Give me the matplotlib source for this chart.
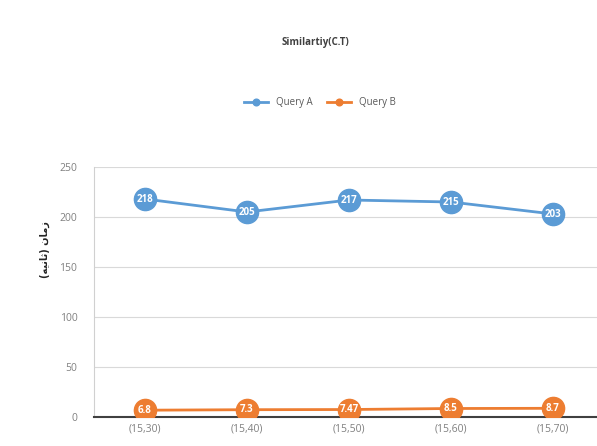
import numpy as np
import matplotlib.pyplot as plt

categories = ["(15,30)", "(15,40)", "(15,50)", "(15,60)", "(15,70)"]
query_a = [218, 205, 217, 215, 203]
query_b = [6.8, 7.3, 7.47, 8.5, 8.7]
labels_a = ["218", "205", "217", "215", "203"]
labels_b = ["6.8", "7.3", "7.47", "8.5", "8.7"]
yticks = [0, 50, 100, 150, 200, 250]
# "زمان (ثانیه)" written with presentation forms in visual order
ylabel = "(\ufeea\ufef4\ufee7\ufe8e\ufe9b) \ufee5\ufe8e\ufee3\ufeaf"

blue = "#5B9BD5"
orange = "#ED7D31"
grey = "#808080"

plt.rcParams['font.family'] = ['Open Sans', 'DejaVu Sans']

fig = plt.figure(figsize=(5.97, 4.46), dpi=100)
ax = fig.add_axes([94/597, 29/446, 510/597, 250/446])

x = np.arange(len(categories))
ax.plot(x, query_a, color=blue, lw=2, marker='o', ms=16, mec=blue, label="Query A", zorder=3)
ax.plot(x, query_b, color=orange, lw=2, marker='o', ms=16, mec=orange, label="Query B", zorder=3)

for xi, v, s in zip(x, query_a, labels_a):
    ax.text(xi, v, s, ha='center', va='center', color='white', fontsize=7, fontweight='bold', zorder=4)
for xi, v, s in zip(x, query_b, labels_b):
    ax.text(xi, v, s, ha='center', va='center', color='white', fontsize=7, fontweight='bold', zorder=4)

ax.set_xlim(-0.5, 4.5)
ax.set_ylim(0, 250)
ax.set_yticks(yticks)
ax.set_xticks(x)
ax.set_xticklabels(categories)
ax.tick_params(axis='both', colors=grey, labelsize=7.5, length=0)
ax.tick_params(axis='y', pad=12)
ax.tick_params(axis='x', pad=5)
ax.grid(axis='y', color='#d9d9d9', lw=0.8)
ax.set_axisbelow(True)
for s in ['top', 'right']:
    ax.spines[s].set_visible(False)
ax.spines['left'].set_color('#d0d0d0')
ax.spines['bottom'].set_color('#404040')
ax.spines['bottom'].set_linewidth(1.5)

fig.text(45/597, 1 - 250/446, ylabel, rotation=90, ha='center', va='center',
         fontsize=7, fontweight='bold', family=['DejaVu Sans'], color='#262626')

fig.text(315/597, 1 - 42/446, "Similartiy(C.T)", ha='center', va='center', fontsize=7, fontweight='bold', color='#404040')

handles, lbls = ax.get_legend_handles_labels()
leg = fig.legend(handles, lbls, loc='center', bbox_to_anchor=(320/597, 1 - 103/446), ncol=2,
                 frameon=False, fontsize=7, markerscale=0.3, handlelength=2.5, columnspacing=1.5)
for t in leg.get_texts():
    t.set_color('#595959')

fig.savefig("out.png", dpi=100)
